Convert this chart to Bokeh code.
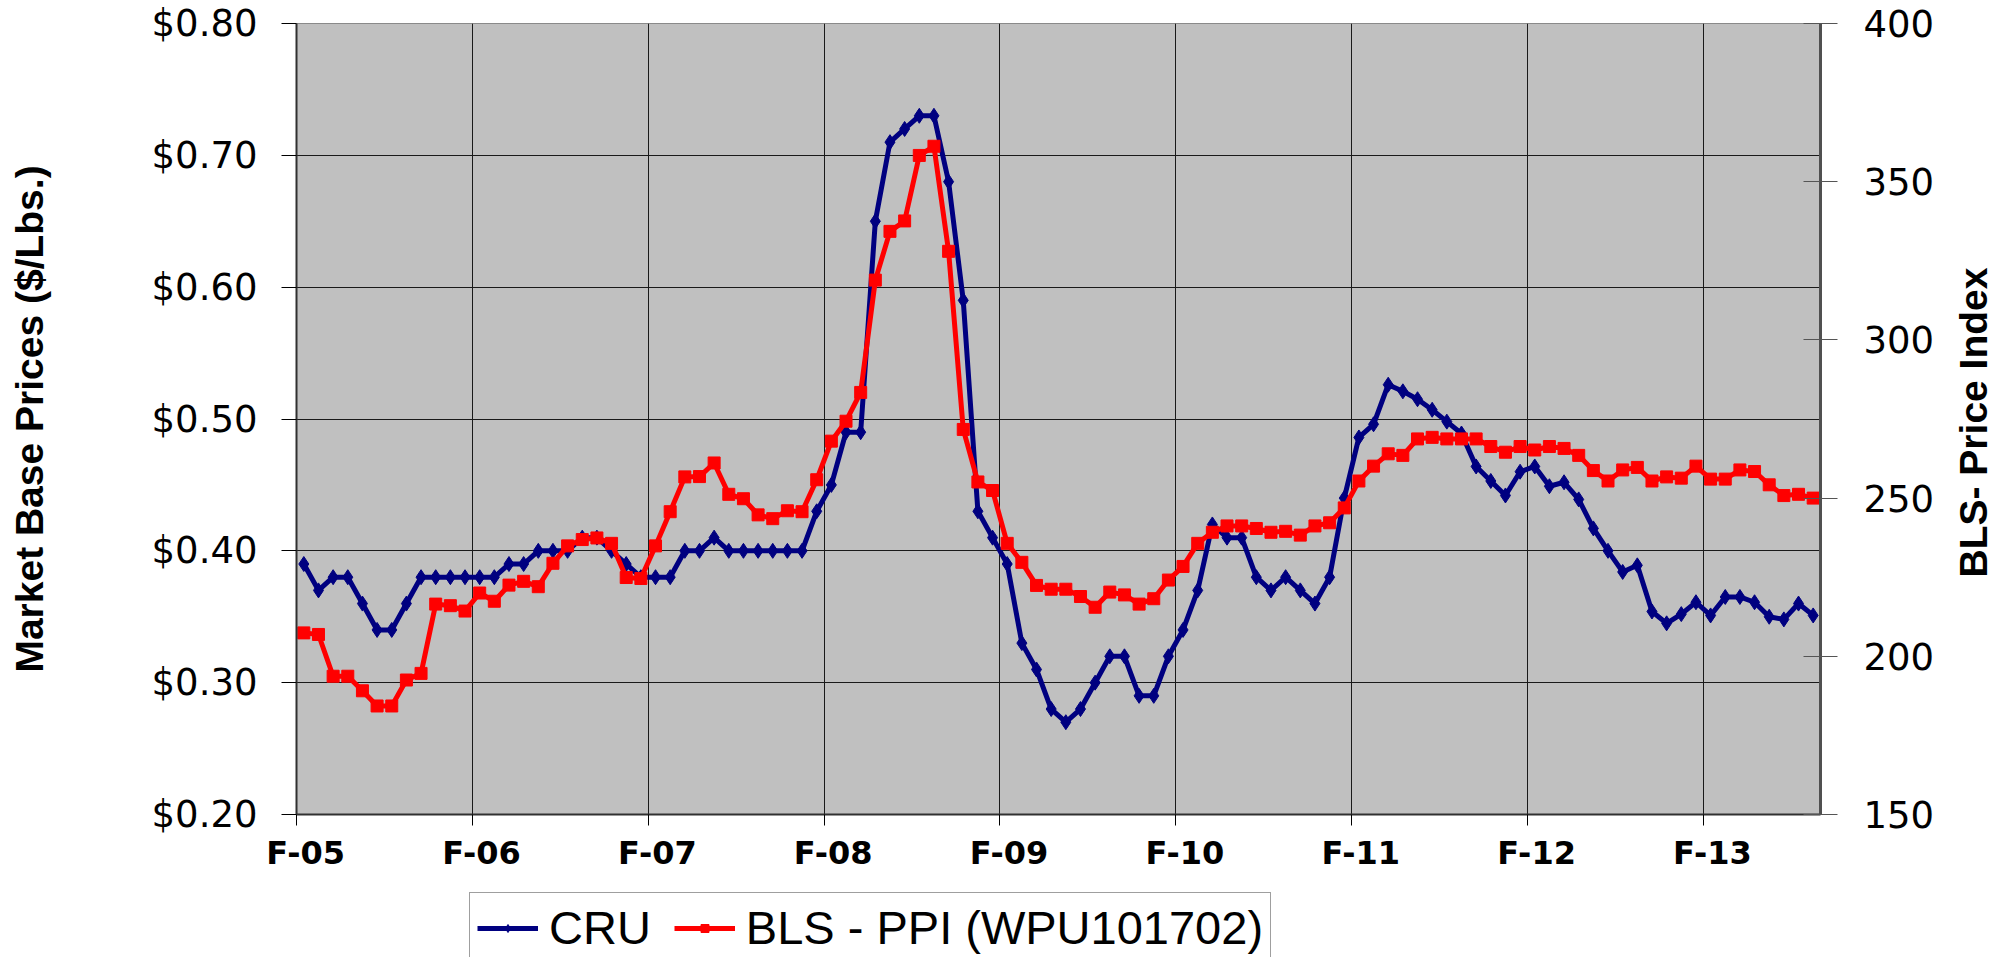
import math
from bokeh.plotting import figure
from bokeh.layouts import column
from bokeh.models import (Range1d, LinearAxis, FixedTicker, Legend, LegendItem, Label)
from bokeh.embed import file_html
from bokeh.resources import INLINE

# ---------------- data ----------------
months = list(range(104))  # monthly, Feb-2005 ... Sep-2013

cru = [0.39, 0.37, 0.38, 0.38, 0.36, 0.34, 0.34, 0.36, 0.38, 0.38,
       0.38, 0.38, 0.38, 0.38, 0.39, 0.39, 0.40, 0.40, 0.40, 0.41,
       0.41, 0.40, 0.39, 0.38, 0.38, 0.38, 0.40, 0.40, 0.41, 0.40,
       0.40, 0.40, 0.40, 0.40, 0.40, 0.43, 0.45, 0.49, 0.49, 0.65,
       0.71, 0.72, 0.73, 0.73, 0.68, 0.59, 0.43, 0.41, 0.39, 0.33,
       0.31, 0.28, 0.27, 0.28, 0.30, 0.32, 0.32, 0.29, 0.29, 0.32,
       0.34, 0.37, 0.42, 0.41, 0.41, 0.38, 0.37, 0.38, 0.37, 0.36,
       0.38, 0.44, 0.486, 0.496, 0.526, 0.521, 0.515, 0.507, 0.498, 0.489,
       0.464, 0.453, 0.442, 0.460, 0.464, 0.449, 0.452, 0.439, 0.417, 0.400,
       0.384, 0.389, 0.354, 0.345, 0.352, 0.361, 0.351, 0.365, 0.365, 0.361,
       0.350, 0.348, 0.360, 0.351]

bls = [207.4, 206.9, 193.7, 193.7, 189.1, 184.3, 184.3, 192.5, 194.6, 216.5,
       216.0, 214.3, 220.0, 217.4, 222.5, 223.7, 222.0, 229.4, 234.9, 236.9,
       237.4, 235.7, 224.9, 224.6, 234.9, 245.7, 256.7, 256.8, 261.1, 251.2,
       249.8, 244.7, 243.5, 246.0, 245.7, 255.8, 268.0, 274.3, 283.4, 318.9,
       334.3, 337.6, 358.3, 361.2, 328.0, 271.7, 255.1, 252.4, 235.7, 229.7,
       222.4, 221.2, 221.2, 218.9, 215.5, 220.3, 219.4, 216.5, 218.2, 224.1,
       228.4, 235.7, 239.2, 241.2, 241.2, 240.4, 239.2, 239.5, 238.3, 241.2,
       242.2, 246.9, 255.4, 260.1, 264.0, 263.5, 268.7, 269.2, 268.7, 268.7,
       268.7, 266.3, 264.5, 266.3, 265.2, 266.3, 265.7, 263.5, 258.7, 255.4,
       258.9, 259.7, 255.4, 256.7, 256.3, 260.1, 256.0, 256.0, 258.9, 258.4,
       254.2, 250.8, 251.2, 250.0]

series_names = ["CRU", "BLS - PPI (WPU101702)"]
x_tick_labels = ["F-05", "F-06", "F-07", "F-08", "F-09", "F-10", "F-11", "F-12", "F-13"]
left_ticks = [0.2, 0.3, 0.4, 0.5, 0.6, 0.7, 0.8]
left_tick_labels = ["$0.20", "$0.30", "$0.40", "$0.50", "$0.60", "$0.70", "$0.80"]
right_ticks = [150, 200, 250, 300, 350, 400]
right_tick_labels = ["150", "200", "250", "300", "350", "400"]
left_title = "Market Base Prices ($/Lbs.)"
right_title = "BLS- Price Index"

CRU_COLOR = "#000080"
BLS_COLOR = "#FF0000"
DIAMOND_SIZE = 15
SQUARE_SIZE = 12

# ---------------- main chart ----------------
FONT = "Liberation Sans"
NUMFONT = "DejaVu Sans"
p = figure(width=2007, height=880,
           x_range=Range1d(-0.5, 103.5), y_range=Range1d(0.2, 0.8),
           output_backend="svg", toolbar_location=None,
           min_border_left=296, min_border_right=187,
           min_border_top=23, min_border_bottom=66,
           background_fill_color="#C0C0C0", border_fill_color="white")
p.outline_line_color = "#8a8a8a"
p.outline_line_width = 1

bounds = [-0.5 + 12 * k for k in range(len(x_tick_labels))]
label_pos = [b + 0.625 for b in bounds]

xa = p.xaxis[0]
xa.ticker = FixedTicker(ticks=label_pos, minor_ticks=bounds)
xa.major_label_overrides = {lp: lab for lp, lab in zip(label_pos, x_tick_labels)}
xa.major_tick_out = 0
xa.major_tick_in = 0
xa.minor_tick_out = 11
xa.minor_tick_in = 0
xa.minor_tick_line_color = "#000000"
xa.axis_line_color = "#303030"
xa.axis_line_width = 2
xa.major_label_text_font = NUMFONT
xa.major_label_text_font_style = "bold"
xa.major_label_text_font_size = "32px"
xa.major_label_text_color = "#000000"
xa.major_label_standoff = 8

p.xgrid.ticker = FixedTicker(ticks=bounds)
p.xgrid.grid_line_color = "#1a1a1a"
p.xgrid.grid_line_width = 1

ya = p.yaxis[0]
ya.ticker = FixedTicker(ticks=left_ticks)
ya.major_label_overrides = {t: lab for t, lab in zip(left_ticks, left_tick_labels)}
ya.major_tick_out = 15
ya.major_tick_in = 0
ya.minor_tick_line_color = None
ya.major_tick_line_color = "#000000"
ya.axis_line_color = "#303030"
ya.axis_line_width = 2
ya.major_label_text_font = NUMFONT
ya.major_label_text_font_size = "37px"
ya.major_label_text_color = "#000000"
ya.major_label_standoff = 24
ya.axis_label = left_title
ya.axis_label_text_font = FONT
ya.axis_label_text_font_style = "bold"
ya.axis_label_text_font_size = "39px"
ya.axis_label_text_color = "#000000"
ya.axis_label_standoff = 98

p.ygrid.grid_line_color = "#1a1a1a"
p.ygrid.grid_line_width = 1

p.extra_y_ranges = {"bls": Range1d(150, 400)}
ar = LinearAxis(y_range_name="bls", ticker=FixedTicker(ticks=right_ticks))
ar.major_label_overrides = {t: lab for t, lab in zip(right_ticks, right_tick_labels)}
ar.major_tick_in = 17
ar.major_tick_out = 17
ar.major_tick_line_color = "#555555"
ar.minor_tick_line_color = None
ar.axis_line_color = "#505050"
ar.axis_line_width = 3
ar.major_label_text_font = NUMFONT
ar.major_label_text_font_size = "37px"
ar.major_label_text_color = "#000000"
ar.major_label_standoff = 26
p.add_layout(ar, "right")

# right-hand title, reading bottom-to-top
rt = Label(x=36, y=392, x_units="screen", y_units="screen", text=right_title,
           angle=math.pi / 2, text_align="center", text_baseline="middle",
           text_font=FONT, text_font_style="bold", text_font_size="39px",
           text_color="#000000")
p.add_layout(rt, "right")

l1 = p.line(months, cru, line_color=CRU_COLOR, line_width=5)
s1 = p.scatter(months, cru, marker="diamond", size=DIAMOND_SIZE,
               fill_color=CRU_COLOR, line_color=CRU_COLOR)
l2 = p.line(months, bls, y_range_name="bls", line_color=BLS_COLOR, line_width=5)
s2 = p.scatter(months, bls, y_range_name="bls", marker="square", size=SQUARE_SIZE,
               fill_color=BLS_COLOR, line_color=BLS_COLOR)

# ---------------- legend strip below the chart ----------------
q = figure(width=2007, height=77, x_range=Range1d(0, 1), y_range=Range1d(0, 1),
           output_backend="svg", toolbar_location=None,
           x_axis_location=None, y_axis_location=None,
           min_border_left=0, min_border_right=0, min_border_top=0, min_border_bottom=0,
           background_fill_color="white", border_fill_color="white")
q.outline_line_color = None
q.xgrid.visible = False
q.ygrid.visible = False
nan = [float("nan")]  # legend proxies: styled glyphs with no visible point
ql1 = q.line(x=nan, y=nan, line_color=CRU_COLOR, line_width=5)
qs1 = q.scatter(x=nan, y=nan, marker="diamond", size=DIAMOND_SIZE,
                fill_color=CRU_COLOR, line_color=CRU_COLOR)
ql2 = q.line(x=nan, y=nan, line_color=BLS_COLOR, line_width=5)
qs2 = q.scatter(x=nan, y=nan, marker="square", size=SQUARE_SIZE,
                fill_color=BLS_COLOR, line_color=BLS_COLOR)

legend = Legend(items=[LegendItem(label=series_names[0], renderers=[ql1, qs1]),
                       LegendItem(label=series_names[1], renderers=[ql2, qs2])],
                orientation="horizontal", location=(173, -6),
                label_text_font=FONT, label_text_font_size="47px",
                label_text_color="#000000",
                glyph_width=61, glyph_height=20, label_standoff=11, spacing=23,
                padding=7, margin=0,
                border_line_color="#404040", border_line_width=1,
                background_fill_color="white", background_fill_alpha=1.0)
q.add_layout(legend, "center")

layout = column(p, q, spacing=0)
open("out.html", "w").write(file_html(layout, INLINE))
